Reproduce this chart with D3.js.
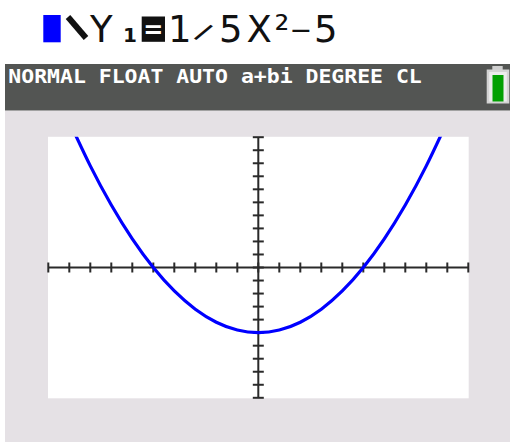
<!DOCTYPE html>
<html><head><meta charset="utf-8">
<script src="https://cdn.jsdelivr.net/npm/d3@7"></script>
<style>body{margin:0;background:#fff}svg{display:block}</style>
</head><body>
<script>
// Data
const curveX = [-9,-8,-7,-6,-5,-4,-3,-2,-1,0,1,2,3,4,5,6,7,8,9];
const curveY = [11.2,7.8,4.8,2.2,0,-1.8,-3.2,-4.2,-4.8,-5,-4.8,-4.2,-3.2,-1.8,0,2.2,4.8,7.8,11.2];
const xTicks = [-10,-9,-8,-7,-6,-5,-4,-3,-2,-1,0,1,2,3,4,5,6,7,8,9,10];
const yTicks = [-10,-9,-8,-7,-6,-5,-4,-3,-2,-1,0,1,2,3,4,5,6,7,8,9,10];
const xDomain = [-10,10];
const yDomain = [-10,10];
const statusText = "NORMAL FLOAT AUTO a+bi DEGREE CL";
const titleParts = ["Y","1","=","1","/","5","X","²","−","5"];

const W=510,H=442;
const svg=d3.select("body").append("svg").attr("width",W).attr("height",H);

// backgrounds
svg.append("rect").attr("x",0).attr("y",0).attr("width",W).attr("height",H).attr("fill","#ffffff");
svg.append("rect").attr("x",5).attr("y",110.5).attr("width",W-5).attr("height",H-110.5).attr("fill","#e5e1e5");
svg.append("rect").attr("x",5).attr("y",64).attr("width",W-5).attr("height",46.5).attr("fill","#535553");

// status text
svg.append("text").attr("x",8.3).attr("y",82.5)
  .attr("font-family","DejaVu Sans Mono").attr("font-weight","bold").attr("font-size",19.5)
  .attr("fill","#ffffff").attr("textLength",413.5).attr("lengthAdjust","spacingAndGlyphs")
  .text(statusText);

// battery
svg.append("rect").attr("x",492.3).attr("y",66).attr("width",10.4).attr("height",4).attr("fill","#cfcfcf");
svg.append("rect").attr("x",486.7).attr("y",69.5).attr("width",22.6).attr("height",34).attr("fill","#d4d4d4");
svg.append("rect").attr("x",489.2).attr("y",72).attr("width",17.6).attr("height",29.5).attr("fill","#ececec");
svg.append("rect").attr("x",492.5).attr("y",75).attr("width",11).attr("height",26.5).attr("fill","#02a002");

// title line
svg.append("rect").attr("x",43.3).attr("y",15).attr("width",17.4).attr("height",27.3).attr("fill","#0000ff");
svg.append("line").attr("x1",68).attr("y1",17).attr("x2",86).attr("y2",38)
  .attr("stroke","#111").attr("stroke-width",6);
svg.append("rect").attr("x",141.7).attr("y",16.5).attr("width",23.3).attr("height",25.3).attr("fill","#111");
const tX=[90,123,143.3,168,195.3,219,246.5,274.5,289.5,314];
const title=svg.append("text").attr("y",42).attr("font-family","DejaVu Sans").attr("font-size",37).attr("fill","#111");
titleParts.forEach((p,i)=>{
  const ts=title.append("tspan").attr("x",tX[i]).attr("y",42).text(p);
  if(i===1) ts.attr("font-size",20).attr("font-weight","bold");
  if(i===2) ts.attr("fill","#ffffff").attr("font-size",24).attr("y",37.5).attr("font-weight","bold");
  if(i===4) ts.attr("font-size",25).attr("y",36.4).attr("rotate",33).attr("font-weight","bold");
  if(i===8) ts.attr("font-size",27).attr("y",39);
});

// plot area
const x=d3.scaleLinear().domain(xDomain).range([48.3,468.3]);
const y=d3.scaleLinear().domain(yDomain).range([397.8,137.2]);
svg.append("rect").attr("x",48).attr("y",136.8).attr("width",420.7).attr("height",261.5).attr("fill","#ffffff");

const axisColor="#2a2a2a";
const g=svg.append("g");
g.append("line").attr("x1",x(-10)).attr("x2",x(10)).attr("y1",y(0)).attr("y2",y(0)).attr("stroke",axisColor).attr("stroke-width",2);
g.append("line").attr("y1",y(-10)).attr("y2",y(10)).attr("x1",x(0)).attr("x2",x(0)).attr("stroke",axisColor).attr("stroke-width",2);
g.selectAll(".xt").data(xTicks).enter().append("line")
  .attr("x1",d=>x(d)).attr("x2",d=>x(d)).attr("y1",y(0)-5).attr("y2",y(0)+5)
  .attr("stroke",axisColor).attr("stroke-width",2);
g.selectAll(".yt").data(yTicks).enter().append("line")
  .attr("y1",d=>y(d)).attr("y2",d=>y(d)).attr("x1",x(0)-5.5).attr("x2",x(0)+5.5)
  .attr("stroke",axisColor).attr("stroke-width",2);

svg.append("clipPath").attr("id","clip").append("rect")
  .attr("x",48).attr("y",136.8).attr("width",420.7).attr("height",261.5);
const pts=curveX.map((v,i)=>[v,curveY[i]]);
svg.append("path").datum(pts).attr("clip-path","url(#clip)")
  .attr("d",d3.line().x(d=>x(d[0])).y(d=>y(d[1])).curve(d3.curveNatural))
  .attr("fill","none").attr("stroke","#0000ff").attr("stroke-width",3.2);
</script>
</body></html>
